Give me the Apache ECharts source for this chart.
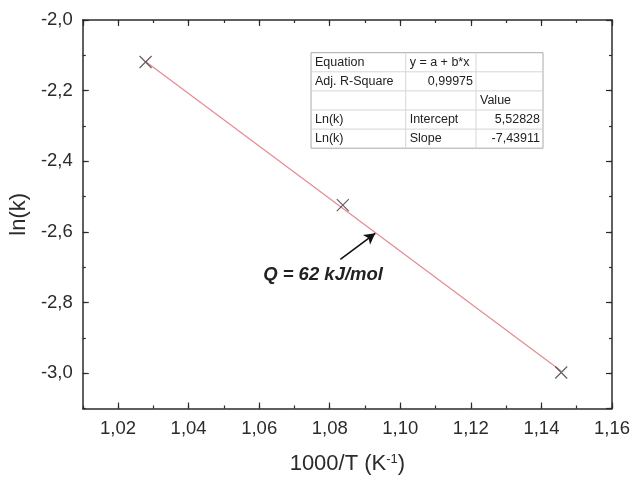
<!DOCTYPE html>
<html>
<head>
<meta charset="utf-8">
<script src="https://cdn.jsdelivr.net/npm/echarts@6/dist/echarts.min.js"></script>
<style>
  html, body { margin: 0; padding: 0; background: #fff; }
  #chart { width: 635px; height: 480px; }
</style>
</head>
<body>
<div id="chart"></div>
<script>
// Arrhenius plot: ln(k) against 1000/T with a linear fit
const invTemp = [1.0278, 1.0837, 1.1456];      // 1000/T (K^-1)
const lnK = [-2.119, -2.524, -2.998];          // ln(k)

// Linear fit results y = a + b*x
const fitIntercept = 5.52828;
const fitSlope = -7.43911;
const adjRSquare = 0.99975;

// Activation energy note and the arrow pointing at the fit line
const noteText = 'Q = 62 kJ/mol';
const noteAnchor = [1.0781, -2.721];
const arrowFrom = [1.0830, -2.678];
const arrowTo = [1.0929, -2.604];

const xRange = [1.01, 1.16];
const yRange = [-3.1, -2.0];
const xMinorStep = 0.01;
const yMinorStep = 0.1;

const FONT = '"Liberation Sans", Arial, sans-serif';
const INK = '#2b2b2b';

const comma = (v, d) => v.toFixed(d).replace('.', ',');

const points = invTemp.map((x, i) => [x, lnK[i]]);
const fitXs = [invTemp[0], invTemp[invTemp.length - 1]];
const fitLine = fitXs.map(x => [x, fitIntercept + fitSlope * x]);

const tableRows = [
  ['Equation', 'y = a + b*x', ''],
  ['Adj. R-Square', comma(adjRSquare, 5), ''],
  ['', '', 'Value'],
  ['Ln(k)', 'Intercept', comma(fitIntercept, 5)],
  ['Ln(k)', 'Slope', comma(fitSlope, 5)]
];
// cells whose text sits at the right edge
const rightAligned = [[1, 1], [3, 2], [4, 2]];

const chart = echarts.init(document.getElementById('chart'), null, { renderer: 'canvas' });

function xAxisDef(position, major) {
  const a = {
    type: 'value', position: position, min: xRange[0], max: xRange[1],
    axisLine: { show: major, lineStyle: { color: INK, width: 1.5 } },
    axisTick: { show: true, inside: true, length: major ? 6 : 3, lineStyle: { color: INK, width: 1.2 } },
    splitLine: { show: false },
    axisLabel: { show: false }
  };
  if (major) {
    a.splitNumber = 7;
  } else {
    a.interval = xMinorStep;
  }
  if (major && position === 'bottom') {
    a.axisLabel = {
      show: true, margin: 11, color: INK, fontSize: 18.5, fontFamily: FONT,
      showMinLabel: false,
      formatter: v => (Math.round(v * 100) % 2 === 0 ? comma(v, 2) : '')
    };
    a.name = '1000/T (K{sup|-1})';
    a.nameLocation = 'middle';
    a.nameGap = 44;
    a.nameTextStyle = {
      color: INK, fontSize: 22, fontFamily: FONT,
      rich: { sup: { fontSize: 13, fontFamily: FONT, color: INK, verticalAlign: 'top', padding: [0, 0, 10, 0] } }
    };
  }
  return a;
}

function yAxisDef(position, major) {
  const a = {
    type: 'value', position: position, min: yRange[0], max: yRange[1],
    axisLine: { show: major, lineStyle: { color: INK, width: 1.5 } },
    axisTick: { show: true, inside: true, length: major ? 6 : 3, lineStyle: { color: INK, width: 1.2 } },
    splitLine: { show: false },
    axisLabel: { show: false }
  };
  if (major) {
    a.splitNumber = 6;
  } else {
    a.interval = yMinorStep;
  }
  if (major && position === 'left') {
    a.axisLabel = {
      show: true, margin: 10, color: INK, fontSize: 18.5, fontFamily: FONT,
      showMinLabel: false,
      formatter: v => (Math.round(v * 10) % 2 === 0 ? comma(v, 1) : '')
    };
    a.name = 'ln(k)';
    a.nameLocation = 'middle';
    a.nameGap = 51;
    a.nameTextStyle = { color: INK, fontSize: 22, fontFamily: FONT };
  }
  return a;
}

const option = {
  backgroundColor: '#ffffff',
  animation: false,
  textStyle: { fontFamily: FONT },
  grid: { left: 78, right: 23, top: 20, bottom: 67, containLabel: false },
  xAxis: [
    xAxisDef('bottom', true), xAxisDef('bottom', false),
    xAxisDef('top', true), xAxisDef('top', false)
  ],
  yAxis: [
    yAxisDef('left', true), yAxisDef('left', false),
    yAxisDef('right', true), yAxisDef('right', false)
  ],
  series: [
    {
      name: 'fit', type: 'line', xAxisIndex: 0, yAxisIndex: 0,
      data: fitLine, showSymbol: false, symbol: 'none',
      lineStyle: { color: '#e58a92', width: 1.2 },
      silent: true,
      markLine: {
        silent: true, animation: false,
        symbol: ['none', 'arrow'], symbolSize: [9, 11],
        label: { show: false },
        lineStyle: { color: '#111', width: 1.6, type: 'solid' },
        data: [[{ coord: arrowFrom }, { coord: arrowTo }]]
      }
    },
    {
      name: 'ln(k)', type: 'scatter', xAxisIndex: 0, yAxisIndex: 0,
      data: points,
      symbol: 'path://M0,0L10,10M10,0L0,10',
      symbolSize: 12,
      itemStyle: { color: 'rgba(0,0,0,0)', borderColor: '#3a3a3a', borderWidth: 1.2 },
      z: 5
    }
  ]
};

chart.setOption(option);

// Annotation text and fit-result table drawn on top of the plot
const notePx = chart.convertToPixel({ xAxisIndex: 0, yAxisIndex: 0 }, noteAnchor);

const colX = [0, 94.7, 165, 232];
const rowH = 19.1;
const tableChildren = [];
tableChildren.push({
  type: 'rect', shape: { x: 0, y: 0, width: colX[3], height: rowH * tableRows.length },
  style: { fill: '#fff', stroke: '#a9a9a9', lineWidth: 1 }
});
for (let r = 1; r < tableRows.length; r++) {
  tableChildren.push({
    type: 'line', shape: { x1: 0, y1: r * rowH, x2: colX[3], y2: r * rowH },
    style: { stroke: '#d6d6d6', lineWidth: 1 }
  });
}
for (let c = 1; c < 3; c++) {
  tableChildren.push({
    type: 'line', shape: { x1: colX[c], y1: 0, x2: colX[c], y2: rowH * tableRows.length },
    style: { stroke: '#d6d6d6', lineWidth: 1 }
  });
}
tableRows.forEach((row, r) => {
  row.forEach((txt, c) => {
    if (!txt) return;
    const right = rightAligned.some(p => p[0] === r && p[1] === c);
    tableChildren.push({
      type: 'text',
      x: right ? colX[c + 1] - 3 : colX[c] + 4,
      y: r * rowH + rowH / 2,
      style: {
        text: txt, fill: '#222', font: '12.5px ' + FONT,
        textAlign: right ? 'right' : 'left', textVerticalAlign: 'middle'
      }
    });
  });
});

chart.setOption({
  graphic: [
    {
      type: 'text', x: notePx[0], y: notePx[1], z: 10,
      style: {
        text: noteText, fill: '#222',
        font: 'italic bold 18.5px ' + FONT,
        textAlign: 'center', textVerticalAlign: 'middle'
      }
    },
    { type: 'group', x: 311, y: 52.7, z: 10, children: tableChildren }
  ]
});
</script>
</body>
</html>
